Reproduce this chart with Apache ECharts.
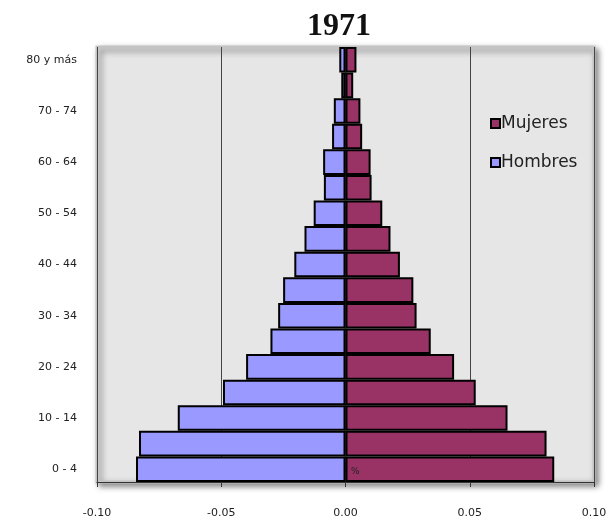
<!DOCTYPE html>
<html>
<head>
<meta charset="utf-8">
<script src="https://cdn.jsdelivr.net/npm/echarts@6/dist/echarts.min.js"></script>
<style>
html,body{margin:0;padding:0;background:#fff}
#chart{width:612px;height:523px}
</style>
</head>
<body>
<div id="chart"></div>
<script>
var ages = ['0 - 4','5 - 9','10 - 14','15 - 19','20 - 24','25 - 29','30 - 34','35 - 39',
    '40 - 44','45 - 49','50 - 54','55 - 59','60 - 64','65 - 69','70 - 74','75 - 79','80 y más']
// hombres drawn to the left (negative)
var hombres = [-0.0843,-0.0831,-0.0675,-0.0493,-0.0400,-0.0302,-0.0271,-0.0251,
    -0.0206,-0.0165,-0.0128,-0.0087,-0.0090,-0.0054,-0.0047,-0.0017,-0.0025]
var mujeres = [0.0840,0.0809,0.0652,0.0524,0.0437,0.0343,0.0286,0.0273,
    0.0219,0.0181,0.0148,0.0105,0.0101,0.0067,0.0060,0.0031,0.0044]
var xTicks = [-0.10,-0.05,0.00,0.05,0.10]

var chart = echarts.init(document.getElementById('chart'))

var lab_font = {fontFamily:'DejaVu Sans', fontSize:11, color:'#222'}

var opt = {
    animation:false,
    title:{
        text:'1971',
        left:334,
        top:6,
        textAlign:'center',
        textStyle:{fontFamily:'Liberation Serif', fontWeight:'bold', fontSize:32, color:'#111'}
    },
    legend:{
        orient:'vertical',
        left:485,
        top:110,
        itemGap:22,
        itemWidth:9,
        itemHeight:9,
        icon:'rect',
        data:['Mujeres','Hombres'],
        textStyle:{fontFamily:'DejaVu Sans', fontSize:17, color:'#222', padding:[0,0,0,-4]}
    },
    graphic:[
        {
            type:'rect',
            z:-1,
            shape:{x:97, y:47, width:497, height:435},
            style:{fill:'#e6e6e6', stroke:'#c4c4c4', lineWidth:3,
                shadowBlur:6, shadowOffsetX:3, shadowOffsetY:3, shadowColor:'rgba(0,0,0,0.45)'}
        },
        {
            type:'text',
            left:351,
            top:467,
            style:{text:'%', fontFamily:'DejaVu Sans', fontSize:9, fill:'#222'},
            z:10
        }
    ],
    grid:{left:97, right:18, top:47, bottom:41},
    xAxis:{
        type:'value',
        min:xTicks[0],
        max:xTicks[xTicks.length-1],
        interval:0.05,
        axisLine:{show:true, lineStyle:{color:'#333', width:1}},
        axisTick:{show:true, length:5, lineStyle:{color:'#333'}},
        splitLine:{show:true, lineStyle:{color:'#444', width:1}},
        axisLabel:Object.assign({margin:26, formatter:function(v){return v.toFixed(2)}}, lab_font)
    },
    yAxis:{
        type:'category',
        data:ages,
        axisLine:{show:false},
        axisTick:{show:false},
        axisLabel:Object.assign({interval:1, margin:20}, lab_font)
    },
    series:[
        {
            name:'Mujeres',
            type:'bar',
            stack:'p',
            data:mujeres,
            barCategoryGap:0,
            itemStyle:{color:'#993366', borderColor:'#000', borderWidth:2}
        },
        {
            name:'Hombres',
            type:'bar',
            stack:'p',
            data:hombres,
            barCategoryGap:0,
            itemStyle:{color:'#9999ff', borderColor:'#000', borderWidth:2}
        }
    ]
}
chart.setOption(opt)
</script>
</body>
</html>
